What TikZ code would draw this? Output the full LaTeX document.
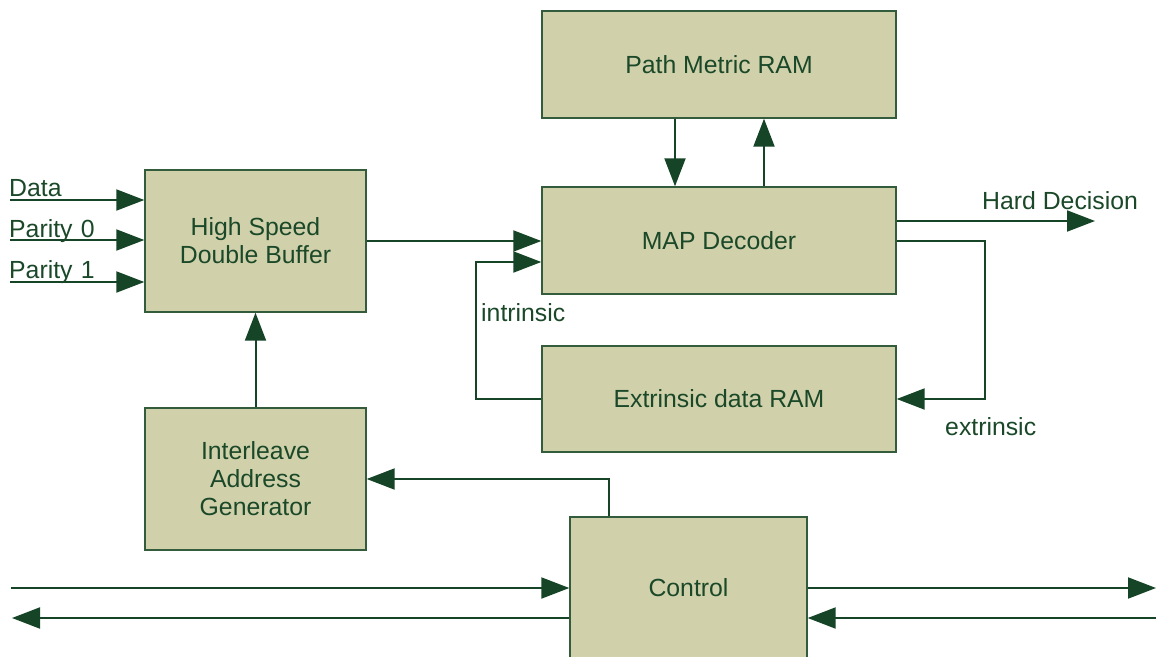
\documentclass[tikz,border=0pt]{standalone}
\usepackage{fontspec}
\setmainfont{Liberation Sans}
\usetikzlibrary{arrows.meta,calc}
\definecolor{boxfill}{RGB}{208,209,170}
\definecolor{dkgreen}{RGB}{22,68,38}
\definecolor{edgegreen}{RGB}{50,92,60}
\definecolor{txtgreen}{RGB}{26,72,40}
\tikzset{
  blk/.style={draw=edgegreen, line width=1.4pt, fill=boxfill, rectangle, inner sep=0pt,
    text=txtgreen, align=center, font=\fontsize{24.8pt}{28pt}\selectfont},
  conn/.style={draw=dkgreen, line width=2pt},
  arr/.style={conn, -{Triangle[length=28pt,width=21pt]}},
  lbl/.style={text=txtgreen, inner sep=0pt, anchor=base west, font=\fontsize{24.8pt}{28pt}\selectfont}
}
\begin{document}
\begin{tikzpicture}[x=1pt,y=-1pt]
\useasboundingbox (0,0) rectangle (1156,656);
\clip (0,0) rectangle (1156,656);
% blocks
\node[blk, minimum width=354pt, minimum height=107pt] (pm)  at (719,64.5) {Path Metric RAM};
\node[blk, minimum width=354pt, minimum height=107pt] (map) at (719,240.5) {MAP Decoder};
\node[blk, minimum width=354pt, minimum height=106pt] (ext) at (719,399) {Extrinsic data RAM};
\node[blk, minimum width=221pt, minimum height=142pt] (buf) at (255.5,241) {High Speed\\Double Buffer};
\node[blk, minimum width=221pt, minimum height=142pt] (ilv) at (255.5,479) {Interleave\\Address\\Generator};
\node[blk, minimum width=237pt, minimum height=142pt] (ctl) at (688.5,588) {Control};
% helper coordinates
\coordinate (din) at (10,200);
\coordinate (p0in) at (10,240);
\coordinate (p1in) at (10,282);
\coordinate (xa) at (675,0);
\coordinate (xb) at (764,0);
\coordinate (yh) at (0,221);
\coordinate (hd) at (1095,221);
\coordinate (ye) at (0,241);
\coordinate (ecorner) at (985,241);
\coordinate (icorner) at (476,399);
\coordinate (yi) at (0,262);
\coordinate (xc) at (609,0);
\coordinate (lin) at (11,588);
\coordinate (lout) at (12,618);
\coordinate (yo) at (0,618);
\coordinate (rout) at (1156,588);
\coordinate (rin) at (1156,618);
% inputs
\draw[arr] (din) -- (buf.west |- din);
\draw[arr] (p0in) -- (buf.west |- p0in);
\draw[arr] (p1in) -- (buf.west |- p1in);
\node[lbl] (ldata) at (9,196) {Data};
\node[lbl] (lp0) at (9,237) {Parity\,\,0};
\node[lbl] (lp1) at (9,278) {Parity\,\,1};
% buffer to MAP
\draw[arr] (buf.east) -- (map.west |- buf.east);
% intrinsic loop
\draw[arr] (ext.west) -- (icorner) |- (map.west |- yi);
\node[lbl] (lintr) at (481,321) {intrinsic};
% path metric
\draw[arr] (pm.south -| xa) -- (map.north -| xa);
\draw[arr] (map.north -| xb) -- (pm.south -| xb);
% hard decision
\draw[arr] (map.east |- yh) -- (hd);
\node[lbl] (lhd) at (982,209) {Hard Decision};
% extrinsic loop
\draw[arr] (map.east |- ye) -- (ecorner) |- (ext.east);
\node[lbl] (lext) at (945,435) {extrinsic};
% interleave to buffer
\draw[arr] (ilv.north) -- (buf.south);
% control to interleave
\draw[arr] (ctl.north -| xc) |- (ilv.east);
% control bus lines
\draw[arr] (lin) -- (ctl.west);
\draw[arr] (ctl.west |- yo) -- (lout);
\draw[arr] (ctl.east) -- (rout);
\draw[arr] (rin) -- (ctl.east |- yo);
\end{tikzpicture}
\end{document}
